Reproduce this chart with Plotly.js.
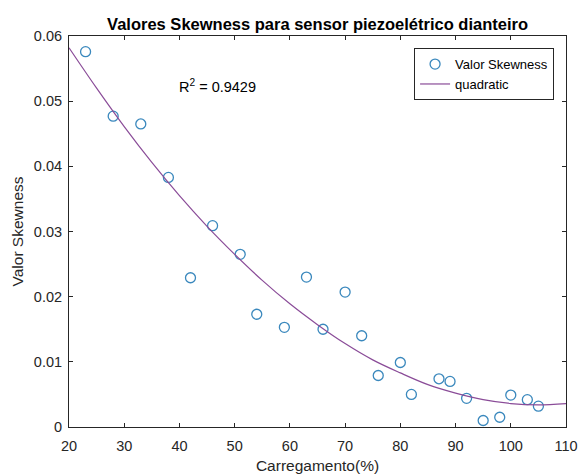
<!DOCTYPE html>
<html>
<head>
<meta charset="utf-8">
<script src="https://cdn.plot.ly/plotly-3.0.1.min.js"></script>
<style>
html,body{margin:0;padding:0;background:#fff;}
#chart{width:580px;height:476px;}
</style>
</head>
<body>
<div id="chart"></div>
<script>
// Measured data points
const loadPct = [23, 28, 33, 38, 42, 46, 51, 54, 59, 63, 66, 70, 73, 76, 80, 82, 87, 89, 92, 95, 98, 100, 103, 105];
const skewValues = [0.0576, 0.0477, 0.0465, 0.0383, 0.0229, 0.0309, 0.0265, 0.0173, 0.0153, 0.0230, 0.0150, 0.0207, 0.0140, 0.0079, 0.0099, 0.0050, 0.0074, 0.0070, 0.0044, 0.0010, 0.0015, 0.0049, 0.0042, 0.0032];

// Quadratic fit curve
const fitX = [20, 25, 30, 35, 40, 45, 50, 55, 60, 65, 70, 75, 80, 85, 90, 95, 100, 105, 110];
const fitY = [0.0582, 0.0520, 0.0461, 0.0406, 0.0355, 0.0308, 0.0265, 0.0225, 0.0189, 0.0157, 0.0128, 0.0103, 0.0083, 0.0065, 0.0052, 0.0042, 0.0036, 0.0034, 0.0036];

const xTicks = [20, 30, 40, 50, 60, 70, 80, 90, 100, 110];
const yTicks = [0, 0.01, 0.02, 0.03, 0.04, 0.05, 0.06];
const yTickText = ['0', '0.01', '0.02', '0.03', '0.04', '0.05', '0.06'];

const FONT = 'Liberation Sans, Arial, sans-serif';
const AX = '#262626';

const traces = [
  {
    x: loadPct, y: skewValues, type: 'scatter', mode: 'markers', name: 'Valor Skewness',
    marker: {symbol: 'circle-open', size: 10, color: '#3a88bd', line: {width: 1.3, color: '#3a88bd'}}
  },
  {
    x: fitX, y: fitY, type: 'scatter', mode: 'lines', name: 'quadratic',
    line: {color: '#8a4c98', width: 1.2, shape: 'spline'}
  }
];

const layout = {
  width: 580, height: 476,
  margin: {l: 69, r: 14, t: 36, b: 49},
  paper_bgcolor: '#fff', plot_bgcolor: '#fff',
  font: {family: FONT, color: AX, size: 14},
  showlegend: true,
  title: {
    text: '<b>Valores Skewness para sensor piezoelétrico dianteiro</b>',
    font: {family: FONT, size: 16.5, color: '#000'},
    x: 0.5475, xanchor: 'center', y: 0.95, yanchor: 'middle'
  },
  xaxis: {
    range: [20, 110], tickvals: xTicks, ticktext: xTicks.map(String),
    ticks: 'inside', ticklen: 4, tickcolor: AX, tickwidth: 1,
    showline: true, linecolor: AX, linewidth: 1, mirror: 'ticks',
    showgrid: false, zeroline: false,
    tickfont: {size: 14.5, color: AX}, ticklabelstandoff: 6,
    title: {text: 'Carregamento(%)', font: {size: 15.5, color: AX}, standoff: 6},
    automargin: false
  },
  yaxis: {
    range: [0, 0.06], tickvals: yTicks, ticktext: yTickText,
    ticks: 'inside', ticklen: 4, tickcolor: AX, tickwidth: 1,
    showline: true, linecolor: AX, linewidth: 1, mirror: 'ticks',
    showgrid: false, zeroline: false,
    tickfont: {size: 14.5, color: AX}, ticklabelstandoff: 3,
    title: {text: 'Valor Skewness', font: {size: 15.5, color: AX}, standoff: 6},
    automargin: false
  },
  legend: {
    x: 0.976, xanchor: 'right', y: 0.969, yanchor: 'top',
    bgcolor: '#fff', bordercolor: AX, borderwidth: 1,
    font: {size: 13, color: '#000'}, tracegroupgap: 0
  },
  annotations: [{
    x: 39.6, y: 0.0523, xref: 'x', yref: 'y', xanchor: 'left', yanchor: 'middle',
    text: 'R<sup>2</sup> = 0.9429', showarrow: false,
    font: {size: 14.5, color: '#000'}
  }]
};

Plotly.newPlot('chart', traces, layout, {displayModeBar: false, staticPlot: true});
</script>
</body>
</html>
